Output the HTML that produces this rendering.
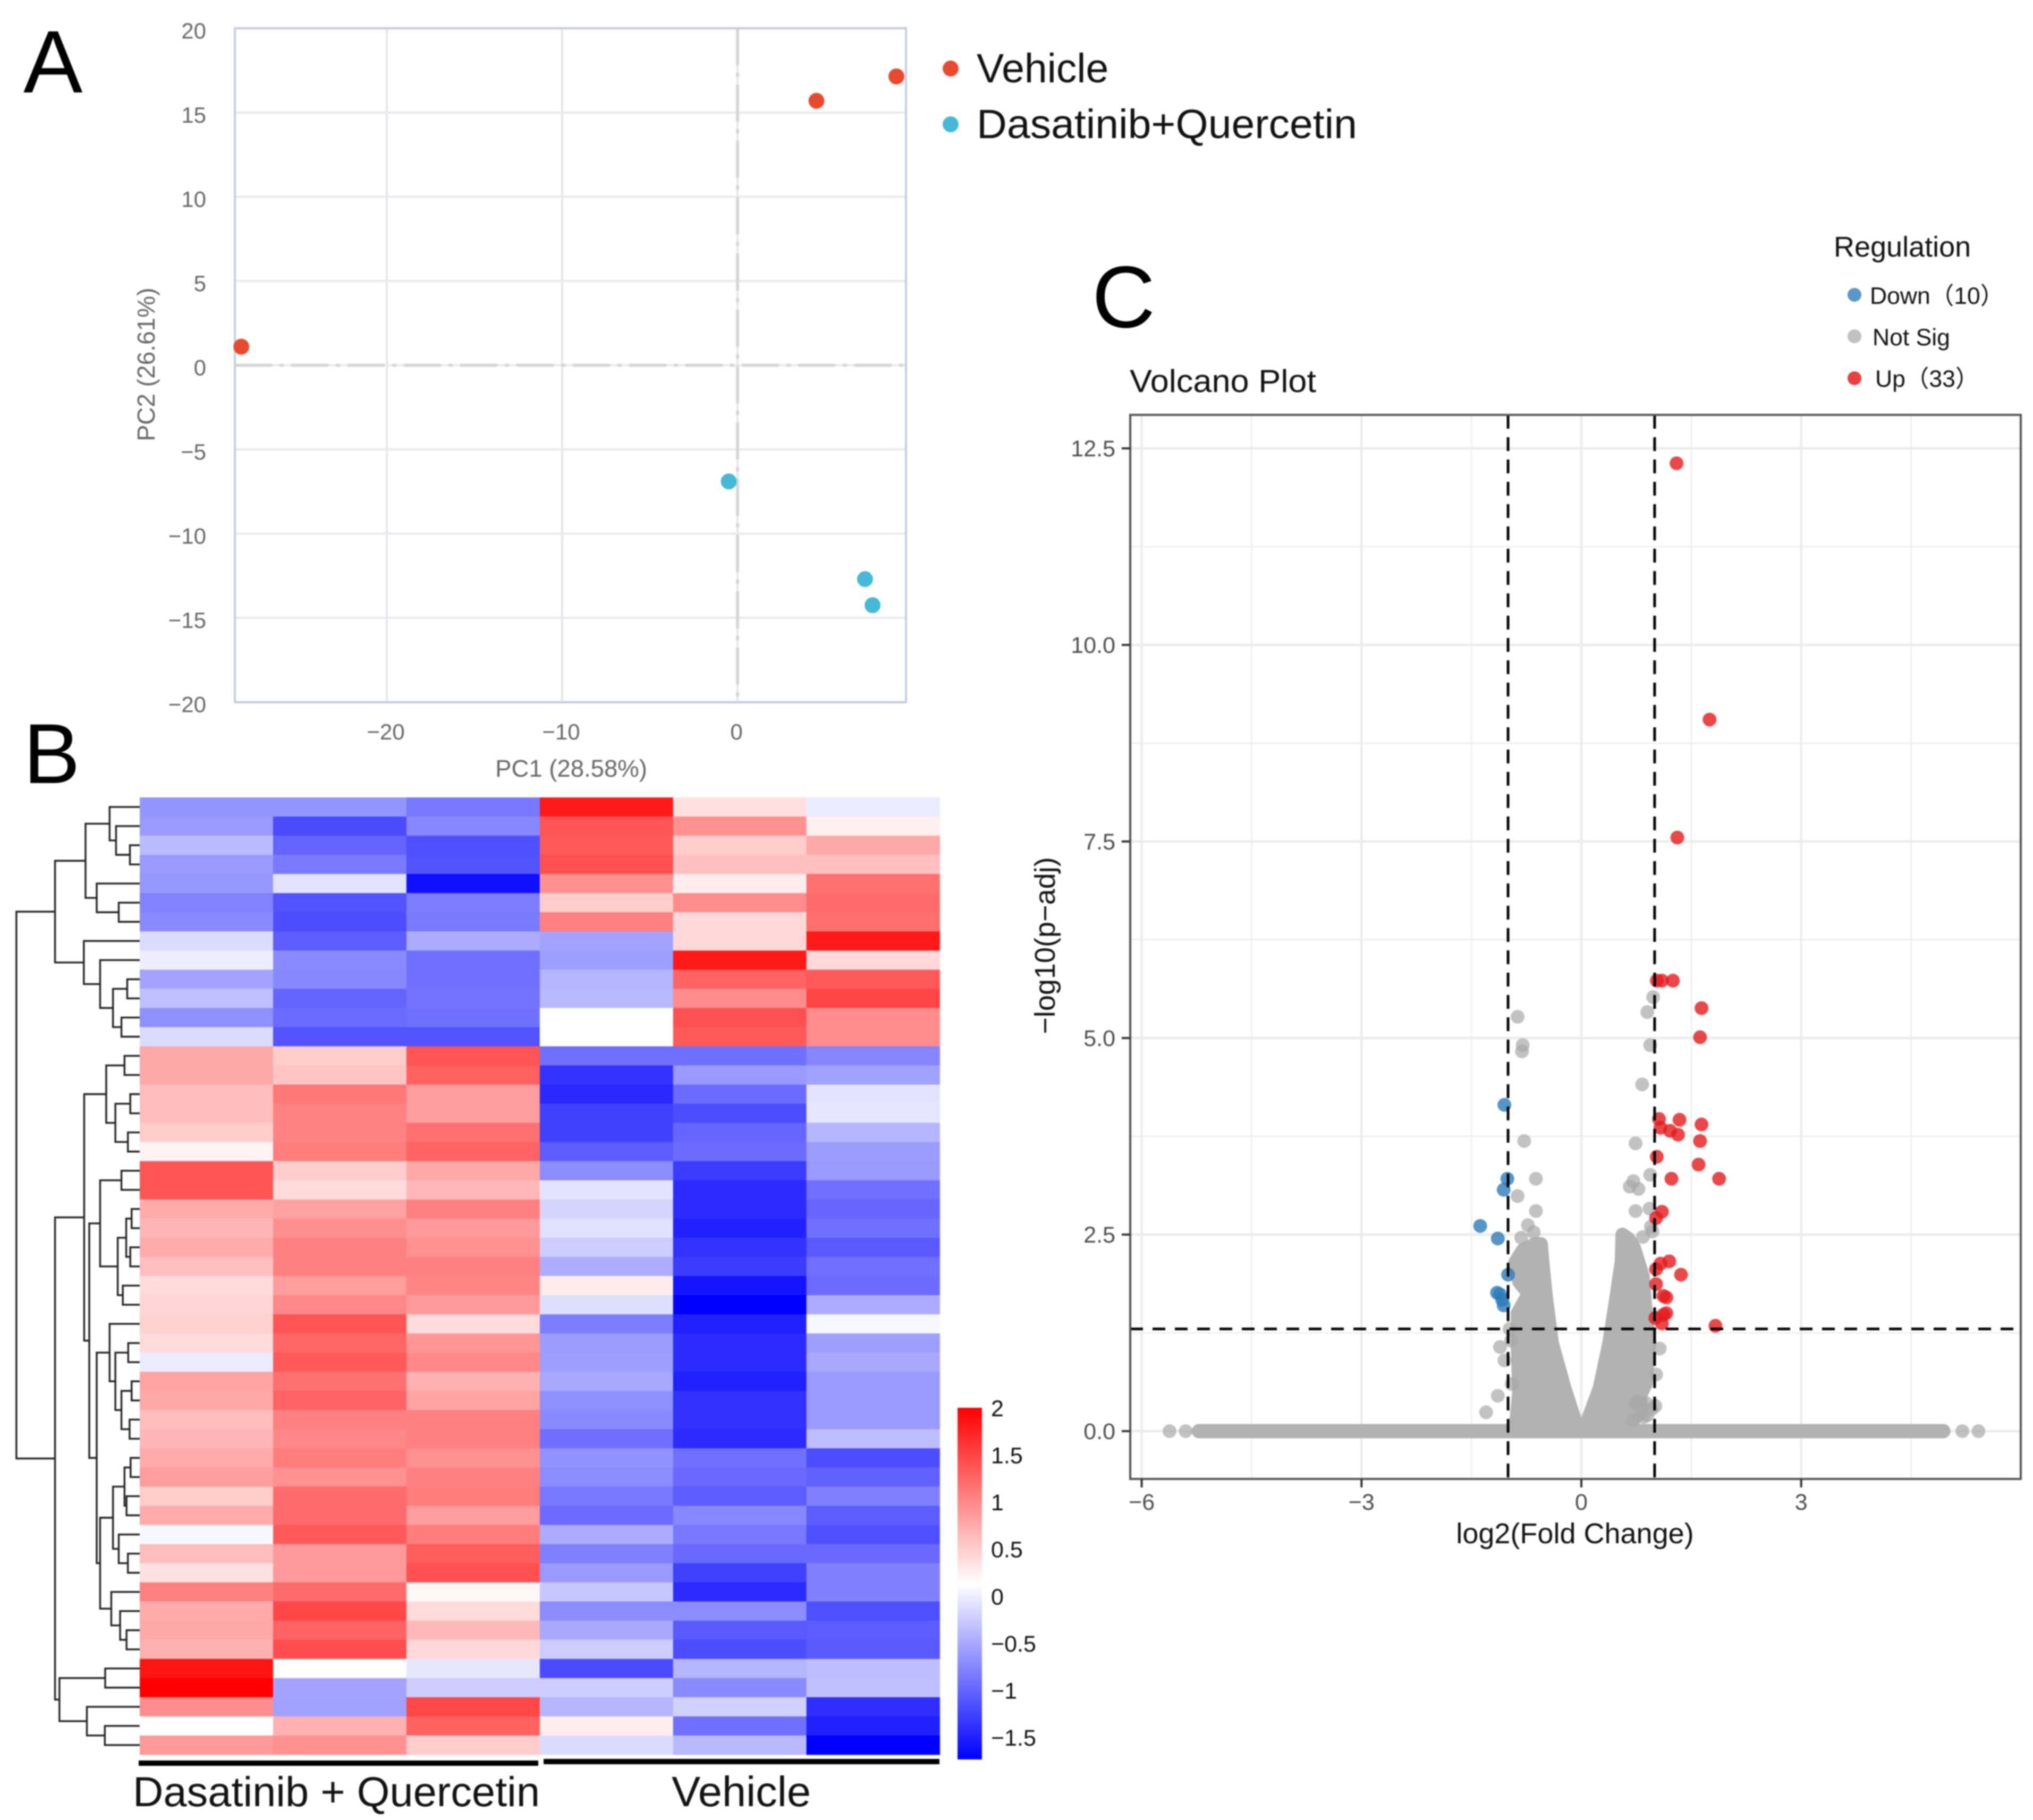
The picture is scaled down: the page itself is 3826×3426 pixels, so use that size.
<!DOCTYPE html>
<html lang="en">
<head>
<meta charset="utf-8">
<title>PCA, heatmap and volcano plot</title>
<style>
html,body{margin:0;padding:0;background:#fff;}
svg{display:block;filter:blur(1.2px);font-family:"Liberation Sans","Noto Sans CJK SC",sans-serif;}
</style>
</head>
<body>
<svg id="figure" xmlns="http://www.w3.org/2000/svg" width="3826" height="3426" viewBox="0 0 3826 3426">
<rect x="0" y="0" width="3826" height="3426" fill="#ffffff"/>
<text x="44" y="174" font-size="167" fill="#000">A</text>
<text x="44" y="1474" font-size="160" fill="#000">B</text>
<text x="2055" y="616" font-size="165" fill="#000">C</text>
<g id="pca"></g>
<g id="heat"></g>
<g id="volcano"></g>
</svg>
<script>
/* ---------- Panel A data ---------- */
const pcaXTicks = [-20, -10, 0];
const pcaYTicks = [20, 15, 10, 5, 0, -5, -10, -15, -20];
const vehiclePC1 = [-28.3, 4.5, 9.06];
const vehiclePC2 = [1.1, 15.7, 17.15];
const dqPC1 = [-0.5, 7.27, 7.7];
const dqPC2 = [-6.9, -12.7, -14.25];

/* ---------- Panel B data ---------- */
const sampleGroups = ['Dasatinib + Quercetin', 'Vehicle'];
const colorbarTicks = [2, 1.5, 1, 0.5, 0, -0.5, -1, -1.5];
const colorbarMin = -1.737;
const colorbarMax = 2;
/* each cell: position on the colour scale, -100 = full blue, 0 = white, 100 = full red */
const heatValues = [
[-42,-42,-53,90,12,-8],[-40,-71,-47,67,43,6],[-27,-61,-69,65,20,34],[-40,-52,-68,69,25,25],
[-41,-11,-94,43,7,56],[-49,-68,-51,20,45,58],[-46,-70,-52,50,15,57],[-14,-64,-33,-36,15,90],
[-7,-46,-56,-38,90,15],[-36,-47,-56,-29,61,65],[-25,-61,-55,-28,45,73],[-44,-58,-56,0,69,45],
[-14,-68,-68,0,65,45],[34,20,67,-56,-56,-48],[34,23,62,-80,-40,-37],[26,53,39,-84,-58,-11],
[26,49,39,-75,-70,-10],[20,49,56,-75,-60,-29],[5,51,61,-64,-58,-39],[67,20,34,-45,-77,-40],
[67,14,28,-11,-83,-56],[33,37,50,-17,-83,-60],[29,44,40,-12,-87,-56],[33,50,43,-20,-80,-65],
[25,50,50,-32,-77,-56],[14,39,48,8,-92,-58],[17,47,40,-13,-100,-33],[18,67,14,-51,-88,-3],
[14,60,41,-39,-83,-38],[-8,65,47,-38,-83,-34],[36,56,31,-34,-88,-40],[34,61,36,-44,-81,-40],
[26,50,50,-46,-81,-40],[29,47,50,-57,-83,-26],[33,51,43,-43,-56,-70],[39,43,50,-45,-59,-62],
[20,58,51,-53,-64,-50],[33,58,39,-58,-47,-64],[-3,65,51,-33,-53,-69],[26,40,64,-50,-59,-59],
[12,40,69,-40,-75,-50],[50,58,3,-22,-83,-50],[33,72,14,-45,-45,-69],[34,61,28,-34,-65,-64],
[31,70,15,-20,-70,-65],[92,0,-10,-71,-29,-26],[100,-36,-20,-20,-46,-25],[45,-37,72,-29,-18,-82],
[0,31,62,7,-56,-88],[40,43,20,-14,-28,-100]
];
/* row tree: [merge distance, upper child, lower child], 0 = a leaf (next heatmap row) */
const rowTree = [364,
  [250,
    [160, [89,0,[70,0,[29,0,0]]], [127,0,[62,0,0]]],
    [165, 0, [117,0,[79,[37,0,0],[54,0,0]]]]
  ],
  [250,
    [164,
      [99, [45,0,0], [72,[28,0,0],[35,0,0]]],
      [149,
        [117, [54,0,0], [65,[40,[24,0,0],[28,0,0]],[50,0,0]]],
        [127,
          [89, 0, [72,[34,0,0],[54,[24,0,0],[30,0,0]]]],
          [117,
            [79,[45,[27,0,0],[39,0,0]],[62,0,[35,0,0]]],
            [84,0,[58,0,[39,0,0]]]
          ]
        ]
      ]
    ],
    [237, [102,0,0], [156,0,[103,0,0]]]
  ]
];

/* ---------- Panel C data ---------- */
const volXTicks = [-6, -3, 0, 3];
const volXMinorGrid = [-4.5, -1.5, 1.5, 4.5];
const volYTicks = [0, 2.5, 5, 7.5, 10, 12.5];
const volYMinorGrid = [1.25, 3.75, 6.25, 8.75, 11.25];
const fcThresholds = [-1, 1];
const pThreshold = 1.3;
const upFC = [1.30,1.75,1.31,1.03,1.10,1.25,1.64,1.62,1.06,1.34,1.64,1.08,1.21,1.32,1.62,1.03,1.60,1.23,1.88,1.10,1.02,1.20,1.08,1.02,1.36,1.02,1.12,1.16,1.16,1.12,1.01,1.10,1.83];
const upP = [12.31,9.05,7.55,5.73,5.73,5.73,5.38,5.01,3.97,3.96,3.90,3.86,3.82,3.77,3.69,3.49,3.39,3.21,3.21,2.79,2.71,2.16,2.13,2.06,1.99,1.87,1.72,1.70,1.50,1.48,1.44,1.37,1.34];
const downFC = [-1.05,-1.01,-1.06,-1.38,-1.14,-1.00,-1.15,-1.11,-1.08,-1.06];
const downP = [4.15,3.21,3.07,2.61,2.45,1.99,1.76,1.74,1.67,1.60];
const nsFC = [-0.87,-0.80,-0.81,0.98,0.90,0.94,0.83,-0.78,0.74,-0.62,-0.87,-0.62,0.94,0.71,0.66,0.78,0.74,0.93,0.95,0.97,0.84,-0.73,-0.65,-0.82,-1.11,-1.05,-1.14,-1.30,1.07,1.01,0.78,0.82,0.70,0.85,-0.98,-0.96,-0.95,1.02,0.90,0.96,0.74,0.88,-5.62,-5.40,5.20,5.42];
const nsP = [5.27,4.91,4.83,5.52,5.33,4.91,4.41,3.69,3.66,3.21,2.99,2.80,3.26,3.18,3.11,3.08,2.80,2.83,2.60,2.54,2.47,2.62,2.53,2.46,1.07,0.90,0.45,0.24,1.05,0.32,0.38,0.22,0.14,0.18,1.30,1.15,0.60,0.72,0.20,0.28,0.35,0.36,0,0,0,0];
/* outline of the dense overplotted not-significant points */
const leftMassFC = [-0.90,-0.85,-0.87,-0.87,-0.72,-0.85,-0.90,-0.80,-0.63,-0.55,-0.53,-0.48,-0.40,-0.23,-0.08,0];
const leftMassP = [0,0.50,1.10,1.50,1.75,1.90,2.15,2.30,2.38,2.38,2.15,1.69,1.12,0.55,0.12,0];
const rightMassFC = [0,0.08,0.25,0.38,0.475,0.55,0.56,0.64,0.72,0.84,0.88,0.93,0.90,0.88,0.80,0.82,0.72,0.50];
const rightMassP = [0,0.12,0.55,1.12,1.69,2.16,2.50,2.45,2.33,1.97,1.50,1.12,0.90,0.60,0.45,0.30,0.15,0];
const bandFC = [-5.22, 4.94];
const legendLabels = ['Down（10）', 'Not Sig', 'Up（33）'];

/* ---------- helpers ---------- */
const NS = 'http://www.w3.org/2000/svg';
function mk(tag, attrs, parent, txt) {
  const e = document.createElementNS(NS, tag);
  for (const k in attrs) e.setAttribute(k, attrs[k]);
  if (txt !== undefined) e.textContent = txt;
  parent.appendChild(e);
  return e;
}
function minus(v, digits) {
  const s = digits ? Math.abs(v).toFixed(digits) : String(Math.abs(v));
  return (v < 0 ? '\u2212' : '') + s;
}

/* ---------- Panel A ---------- */
(function () {
  const g = document.getElementById('pca');
  const L = 442, R = 1705, T = 53, B = 1322;
  const px = v => 1388 + v * 33;
  const py = v => 687.5 - v * 31.7;
  pcaXTicks.forEach(v => {
    const l = mk('line', {x1: px(v), x2: px(v), y1: T, y2: B, stroke: '#e6e6ec', 'stroke-width': 4}, g);
    
    
    const t = mk('text', {x: px(v) - 2, y: 1392, 'text-anchor': 'middle', 'font-size': 42, fill: '#666'}, g, minus(v));
    
    
  });
  pcaYTicks.forEach(v => {
    const l = mk('line', {x1: L, x2: R, y1: py(v), y2: py(v), stroke: '#e9e9ee', 'stroke-width': 4}, g);
    
    
    const t = mk('text', {x: 388, y: py(v) + 19, 'text-anchor': 'end', 'font-size': 42, fill: '#666'}, g, minus(v));
    
    
  });
  const h0 = mk('line', {x1: L, x2: R, y1: py(0), y2: py(0), stroke: '#d6d6d6', 'stroke-width': 6, 'stroke-dasharray': '70 14 8 14'}, g);
  
  
  const v0 = mk('line', {x1: px(0), x2: px(0), y1: T, y2: B, stroke: '#d6d6d6', 'stroke-width': 6, 'stroke-dasharray': '70 14 8 14'}, g);
  
  
  const frame = mk('rect', {x: L, y: T, width: R - L, height: B - T, fill: 'none', stroke: '#c5ccdc', 'stroke-width': 4}, g);
  
  
  vehiclePC1.forEach((v, i) => {
    const c = mk('circle', {cx: px(v), cy: py(vehiclePC2[i]), r: 15, fill: '#e64a2f'}, g);
    
    
  });
  dqPC1.forEach((v, i) => {
    const c = mk('circle', {cx: px(v), cy: py(dqPC2[i]), r: 15, fill: '#46b9d6'}, g);
    
    
  });
  const xt = mk('text', {x: 1075, y: 1462, 'text-anchor': 'middle', 'font-size': 45.5, fill: '#666'}, g, 'PC1 (28.58%)');
  
  
  const yt = mk('text', {x: 0, y: 0, transform: 'translate(291,686) rotate(-90)', 'text-anchor': 'middle', 'font-size': 46, fill: '#666'}, g, 'PC2 (26.61%)');
  
  
  const d1 = mk('circle', {cx: 1789, cy: 129, r: 15, fill: '#e64a2f'}, g);
  
  
  const t1 = mk('text', {x: 1838, y: 155, 'font-size': 77, fill: '#111'}, g, 'Vehicle');
  
  
  const d2 = mk('circle', {cx: 1789, cy: 234, r: 15, fill: '#46b9d6'}, g);
  
  
  const t2 = mk('text', {x: 1838, y: 260, 'font-size': 77, textLength: 716, lengthAdjust: 'spacingAndGlyphs', fill: '#111'}, g, 'Dasatinib+Quercetin');
  
  
})();

/* ---------- Panel B ---------- */
(function () {
  const g = document.getElementById('heat');
  const L = 263, R = 1768.5, T = 1501, B = 3303;
  const nRows = heatValues.length, nCols = heatValues[0].length;
  const cx = c => L + c * (R - L) / nCols;
  const cy = r => T + r * (B - T) / nRows;
  function color(s) {
    const f = Math.max(-100, Math.min(100, s)) / 100;
    const k = Math.round(255 * (1 - Math.abs(f)));
    return f >= 0 ? `rgb(255,${k},${k})` : `rgb(${k},${k},255)`;
  }
  heatValues.forEach((row, r) => {
    row.forEach((v, c) => {
      const rc = mk('rect', {x: cx(c), y: cy(r), width: cx(c + 1) - cx(c) + 0.5, height: cy(r + 1) - cy(r) + 0.5, fill: color(v)}, g);
      
      
    });
  });
  /* dendrogram */
  const dx = d => L - d / 1.568;
  let leaf = 0;
  let d = '';
  function walk(n) {
    if (n === 0) {
      const y = (cy(leaf) + cy(leaf + 1)) / 2;
      leaf++;
      return {x: L, y: y};
    }
    const a = walk(n[1]);
    const b = walk(n[2]);
    const x = dx(n[0]);
    d += `M${a.x} ${a.y}H${x}V${b.y}H${b.x}`;
    return {x: x, y: (a.y + b.y) / 2};
  }
  walk(rowTree);
  const den = mk('path', {d: d, fill: 'none', stroke: '#222', 'stroke-width': 3.4}, g);
  
  
  /* group bars and labels */
  const b1 = mk('rect', {x: 261, y: 3314, width: 752, height: 10, fill: '#000'}, g);
  
  
  const b2 = mk('rect', {x: 1023, y: 3311, width: 745, height: 10, fill: '#000'}, g);
  
  
  const l1 = mk('text', {x: 250, y: 3400, 'font-size': 79, textLength: 766, lengthAdjust: 'spacingAndGlyphs', fill: '#111'}, g, sampleGroups[0]);
  
  
  const l2 = mk('text', {x: 1264, y: 3400, 'font-size': 80, textLength: 262, lengthAdjust: 'spacingAndGlyphs', fill: '#111'}, g, sampleGroups[1]);
  
  
  /* colour bar */
  const defs = mk('defs', {}, g);
  const grad = mk('linearGradient', {id: 'cbar', x1: 0, y1: 0, x2: 0, y2: 1}, defs);
  mk('stop', {offset: '0', 'stop-color': '#ff0000'}, grad);
  mk('stop', {offset: '0.5', 'stop-color': '#ffffff'}, grad);
  mk('stop', {offset: '1', 'stop-color': '#0000ff'}, grad);
  const cbT = 2650, cbB = 3312;
  const cby = v => cbT + (colorbarMax - v) / (colorbarMax - colorbarMin) * (cbB - cbT);
  const bar = mk('rect', {x: 1802, y: cbT, width: 46, height: cbB - cbT, fill: 'url(#cbar)'}, g);
  
  
  colorbarTicks.forEach(v => {
    const t = mk('text', {x: 1865, y: cby(v) + 16, 'font-size': 43, fill: '#111'}, g, minus(v));
    
    
  });
})();

/* ---------- Panel C ---------- */
(function () {
  const g = document.getElementById('volcano');
  const L = 2127, R = 3803, T = 781, B = 2784;
  const px = v => 2976 + v * 137.9;
  const py = v => 2694 - v * 148;
  volXMinorGrid.forEach(v => {
    const l = mk('line', {x1: px(v), x2: px(v), y1: T, y2: B, stroke: '#efefef', 'stroke-width': 3}, g);
    
    
  });
  volYMinorGrid.forEach(v => {
    const l = mk('line', {x1: L, x2: R, y1: py(v), y2: py(v), stroke: '#efefef', 'stroke-width': 3}, g);
    
    
  });
  volXTicks.forEach(v => {
    const l = mk('line', {x1: px(v), x2: px(v), y1: T, y2: B, stroke: '#ececec', 'stroke-width': 4.5}, g);
    
    
  });
  volYTicks.forEach(v => {
    const l = mk('line', {x1: L, x2: R, y1: py(v), y2: py(v), stroke: '#ececec', 'stroke-width': 5}, g);
    
    
  });
  /* dense not-significant mass */
  const band = mk('line', {x1: px(bandFC[0]), x2: px(bandFC[1]), y1: py(0), y2: py(0), stroke: '#b2b2b2', 'stroke-width': 27, 'stroke-linecap': 'round'}, g);
  
  
  const leftPts = leftMassFC.map((v, i) => px(v) + ',' + py(leftMassP[i])).join(' ');
  const lm = mk('polygon', {points: leftPts, fill: '#b2b2b2', stroke: '#b2b2b2', 'stroke-width': 26, 'stroke-linejoin': 'round'}, g);
  
  
  const rightPts = rightMassFC.map((v, i) => px(v) + ',' + py(rightMassP[i])).join(' ');
  const rm = mk('polygon', {points: rightPts, fill: '#b2b2b2', stroke: '#b2b2b2', 'stroke-width': 26, 'stroke-linejoin': 'round'}, g);
  
  
  nsFC.forEach((v, i) => {
    const c = mk('circle', {cx: px(v), cy: py(nsP[i]), r: 13, fill: '#a8a8a8', 'fill-opacity': 0.7}, g);
    
    
  });
  downFC.forEach((v, i) => {
    const c = mk('circle', {cx: px(v), cy: py(downP[i]), r: 13, fill: '#2b7bba', 'fill-opacity': 0.8}, g);
    
    
  });
  upFC.forEach((v, i) => {
    const c = mk('circle', {cx: px(v), cy: py(upP[i]), r: 13, fill: '#e31a1c', 'fill-opacity': 0.8}, g);
    
    
  });
  /* threshold lines */
  fcThresholds.forEach(v => {
    const l = mk('line', {x1: px(v), x2: px(v), y1: T, y2: B, stroke: '#000', 'stroke-width': 5, 'stroke-dasharray': '26 16'}, g);
    
    
  });
  const hl = mk('line', {x1: L, x2: R, y1: py(pThreshold), y2: py(pThreshold), stroke: '#000', 'stroke-width': 5, 'stroke-dasharray': '24 18'}, g);
  
  
  /* frame + ticks */
  const frame = mk('rect', {x: L, y: T, width: R - L, height: B - T, fill: 'none', stroke: '#555', 'stroke-width': 4}, g);
  
  
  volXTicks.forEach(v => {
    const l = mk('line', {x1: px(v), x2: px(v), y1: B, y2: B + 16, stroke: '#333', 'stroke-width': 4}, g);
    
    
    const t = mk('text', {x: px(v), y: 2842, 'text-anchor': 'middle', 'font-size': 43, fill: '#4d4d4d'}, g, minus(v));
    
    
  });
  volYTicks.forEach(v => {
    const l = mk('line', {x1: L - 16, x2: L, y1: py(v), y2: py(v), stroke: '#333', 'stroke-width': 4}, g);
    
    
    const t = mk('text', {x: 2099, y: py(v) + 15, 'text-anchor': 'end', 'font-size': 43, fill: '#4d4d4d'}, g, v.toFixed(1));
    
    
  });
  const xt = mk('text', {x: 2964, y: 2905, 'text-anchor': 'middle', 'font-size': 54, fill: '#111'}, g, 'log2(Fold Change)');
  
  
  const yt = mk('text', {x: 0, y: 0, transform: 'translate(1985,1780) rotate(-90)', 'text-anchor': 'middle', 'font-size': 54, fill: '#111'}, g, '\u2212log10(p\u2212adj)');
  
  
  const title = mk('text', {x: 2126, y: 738, 'font-size': 60, textLength: 351, lengthAdjust: 'spacingAndGlyphs', fill: '#111'}, g, 'Volcano Plot');
  
  
  /* legend */
  const lt = mk('text', {x: 3451, y: 483, 'font-size': 54, fill: '#111'}, g, 'Regulation');
  
  
  const d1 = mk('circle', {cx: 3490, cy: 555, r: 13, fill: '#5a97c9'}, g);
  
  
  const t1 = mk('text', {x: 3519, y: 572, 'font-size': 44.5, fill: '#111'}, g, legendLabels[0]);
  
  
  const d2 = mk('circle', {cx: 3490, cy: 633, r: 13, fill: '#c0c0c0'}, g);
  
  
  const t2 = mk('text', {x: 3524, y: 650, 'font-size': 44.5, fill: '#111'}, g, legendLabels[1]);
  
  
  const d3 = mk('circle', {cx: 3490, cy: 712, r: 13, fill: '#e94040'}, g);
  
  
  const t3 = mk('text', {x: 3529, y: 728, 'font-size': 44.5, fill: '#111'}, g, legendLabels[2]);
  
  
})();
</script>
</body>
</html>
